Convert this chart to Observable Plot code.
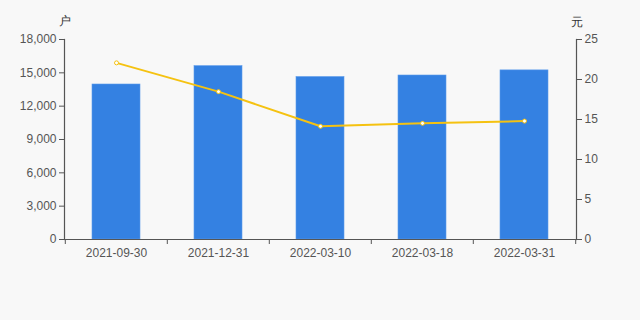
<!DOCTYPE html>
<html><head><meta charset="utf-8">
<script src="https://cdn.jsdelivr.net/npm/d3@7"></script>
<script src="https://cdn.jsdelivr.net/npm/@observablehq/plot@0.6"></script>
<style>
html,body{margin:0;padding:0;background:#f8f8f8;}
#chart svg{display:block;}
</style>
</head><body><div id="chart"></div>
<script>
const dates = ["2021-09-30","2021-12-31","2022-03-10","2022-03-18","2022-03-31"];
const holders = [13950, 15600, 14620, 14760, 15220];
const prices = [22.08, 18.48, 14.15, 14.52, 14.8];
const leftTicks = [0, 3000, 6000, 9000, 12000, 15000, 18000];
const rightTicks = [0, 5, 10, 15, 20, 25];
const leftMax = 18000, rightMax = 25;
const k = leftMax / rightMax;

const bars = dates.map((d, i) => ({date: d, v: holders[i]}));
const line = dates.map((d, i) => ({date: d, p: prices[i] * k}));
const W = 640, ML = 64, MR = 64;
const half = (W - ML - MR) / dates.length / 2;
const axisColor = "#555";
const fmt = d3.format(",");

const plot = Plot.plot({
  width: 640, height: 320,
  marginLeft: ML, marginRight: MR, marginTop: 39, marginBottom: 81,
  style: {background: "#f8f8f8", fontFamily: "'Liberation Sans', Arial, sans-serif", fontSize: "12px", color: "#555"},
  x: {type: "band", domain: dates, paddingInner: 0.53, paddingOuter: 0.265, label: null},
  y: {domain: [0, leftMax], label: null},
  marks: [
    Plot.barY(bars, {x: "date", y: "v", fill: "#3481e2", stroke: "#5b9bec", strokeWidth: 0.6}),
    Plot.ruleY([0], {stroke: axisColor, strokeWidth: 1.2}),
    Plot.frame({anchor: "left", stroke: axisColor, strokeWidth: 1.2}),
    Plot.frame({anchor: "right", stroke: axisColor, strokeWidth: 1.2}),
    Plot.axisY(leftTicks, {anchor: "left", tickSize: 5, tickPadding: 3, stroke: axisColor, fill: "#555", tickFormat: fmt, label: null}),
    Plot.axisY(rightTicks.map(v => v * k), {anchor: "right", tickSize: 5, tickPadding: 3, stroke: axisColor, fill: "#555", tickFormat: d => d / k, label: null}),
    Plot.axisX(dates, {tickSize: 5, text: null, dx: -half, stroke: axisColor}),
    Plot.axisX([dates[dates.length - 1]], {tickSize: 5, text: null, dx: half, stroke: axisColor}),
    Plot.axisX(dates, {tickSize: 0, tickPadding: 9, fill: "#555", label: null}),
    Plot.line(line, {x: "date", y: "p", stroke: "#f5c211", strokeWidth: 2}),
    Plot.dot(line, {x: "date", y: "p", r: 2, fill: "white", stroke: "#f5c211", strokeWidth: 1}),
    Plot.text(["户"], {frameAnchor: "top-left", lineAnchor: "middle", textAnchor: "middle", dy: -18, text: d => d, fill: "#333", fontSize: 12}),
    Plot.text(["元"], {frameAnchor: "top-right", lineAnchor: "middle", textAnchor: "middle", dy: -17, text: d => d, fill: "#333", fontSize: 12})
  ]
});
document.getElementById("chart").appendChild(plot);
</script>
</body></html>
